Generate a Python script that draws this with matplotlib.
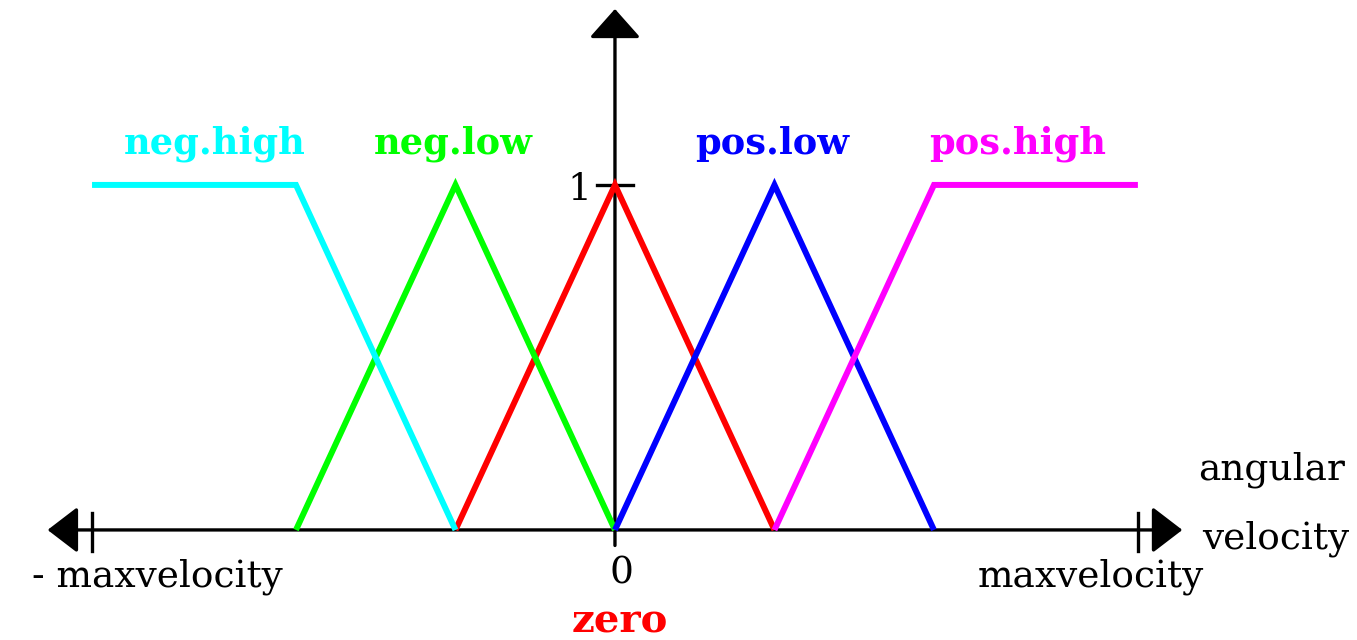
import matplotlib
matplotlib.use("Agg")
import matplotlib.pyplot as plt

# membership functions for angular velocity (x normalised to maxvelocity)
names = ["zero", "neg.low", "neg.high", "pos.low", "pos.high"]
colors = ["#ff0000", "#00ff00", "#00ffff", "#0000ff", "#ff00ff"]
xs = [
    [-0.305, 0.0, 0.305],
    [-0.61, -0.305, 0.0],
    [-1.0, -0.61, -0.305],
    [0.0, 0.305, 0.61],
    [0.305, 0.61, 1.0],
]
ys = [
    [0, 1, 0],
    [0, 1, 0],
    [1, 1, 0],
    [0, 1, 0],
    [0, 1, 1],
]
label_x = [0.0, -0.31, -0.765, 0.30, 0.77]

serif = ["DejaVu Serif"]

fig = plt.figure(figsize=(13.57, 6.40), dpi=100)
ax = fig.add_axes([0, 0, 1, 1])
ax.set_xlim(-1.176, 1.419)
ax.set_ylim(-0.319, 1.536)
ax.axis("off")

# axes with arrow heads
ax.annotate("", xy=(-1.085, 0), xytext=(1.085, 0),
            arrowprops=dict(arrowstyle="<|-|>,head_length=0.47,head_width=0.36",
                            mutation_scale=40, color="black", lw=2.4,
                            shrinkA=0, shrinkB=0))
ax.annotate("", xy=(0, 1.51), xytext=(0, -0.045),
            arrowprops=dict(arrowstyle="-|>,head_length=0.45,head_width=0.4",
                            mutation_scale=40, color="black", lw=2.4,
                            shrinkA=0, shrinkB=0))
# ticks
for t in [-1, 1]:
    ax.plot([t, t], [-0.06, 0.05], color="black", lw=2.4)
ax.plot([-0.034, 0.034], [1, 1], color="black", lw=2.4)

# membership curves
for i in range(len(names)):
    ax.plot(xs[i], ys[i], color=colors[i], lw=4.3, solid_joinstyle="miter",
            solid_capstyle="butt", zorder=3 + i)
    if names[i] != "zero":
        ax.text(label_x[i], 1.12, names[i], color=colors[i], fontsize=26.5,
                fontweight="bold", family=serif, ha="center", va="center")

ax.text(0.01, -0.265, "zero", color="#ff0000", fontsize=29, fontweight="bold",
        family=serif, ha="center", va="center")
ax.text(0.013, -0.125, "0", fontsize=27, family=serif, ha="center", va="center")
ax.text(-0.045, 0.985, "1", fontsize=27, family=serif, ha="right", va="center")
ax.text(-0.875, -0.135, "- maxvelocity", fontsize=27, family=serif,
        ha="center", va="center")
ax.text(0.91, -0.135, "maxvelocity", fontsize=27, family=serif,
        ha="center", va="center")
ax.text(1.255, 0.175, "angular", fontsize=27, family=serif, ha="center", va="center")
ax.text(1.263, -0.025, "velocity", fontsize=27, family=serif, ha="center", va="center")

fig.savefig("out.png", dpi=100)
